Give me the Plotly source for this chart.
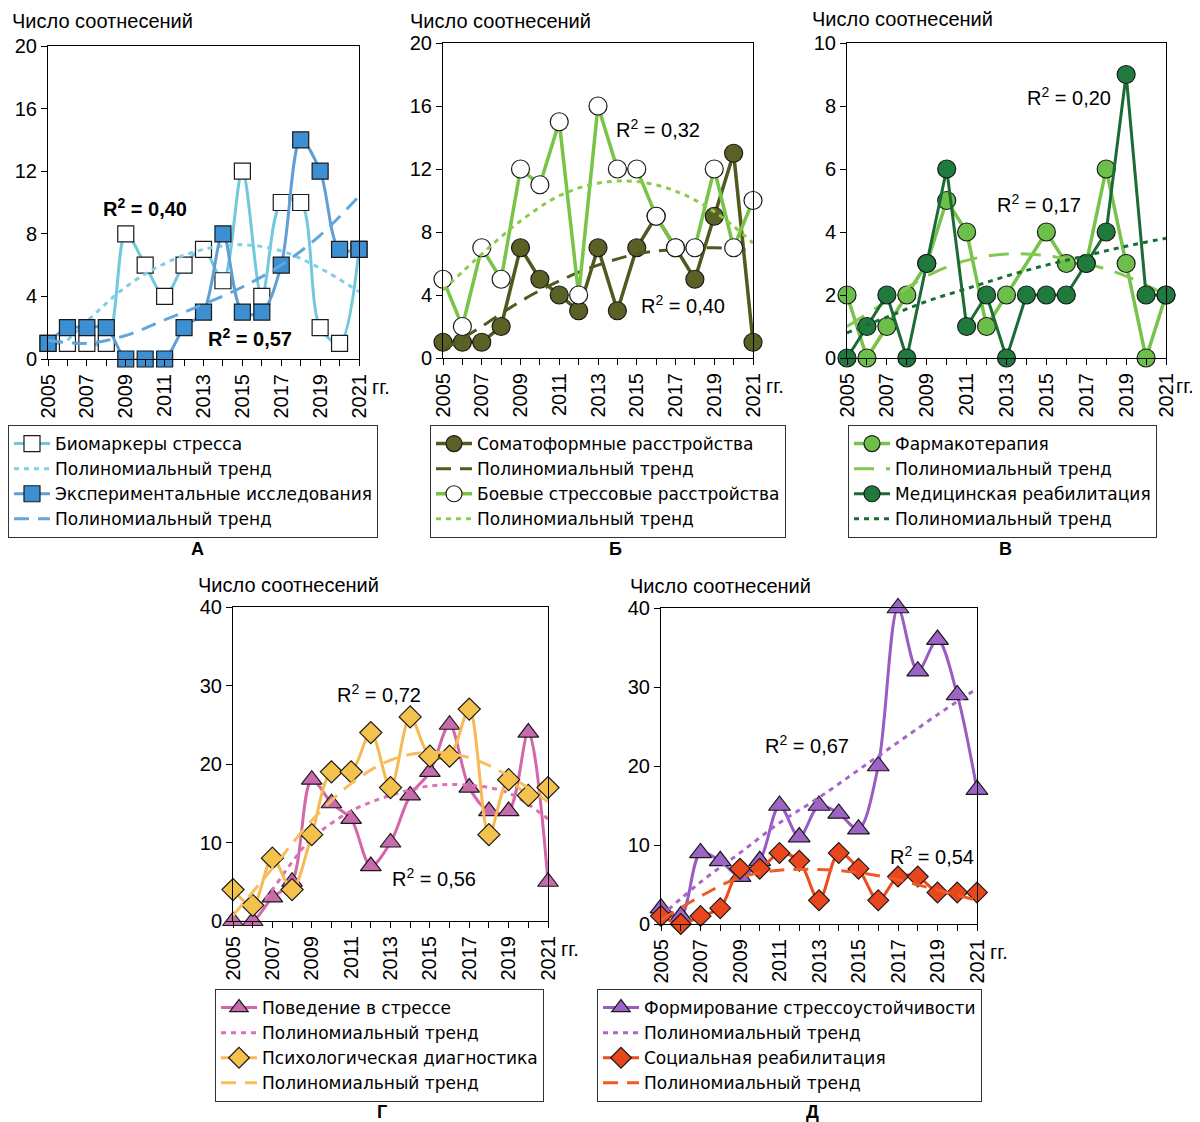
import plotly.graph_objects as go

# The page body adds an 8px margin, so the figure is sized to fill the rest of the window
OFF = 8
W, H = 1200 - OFF, 1122 - OFF
FONT = "Arial, Liberation Sans, sans-serif"
LEG_FONT = "DejaVu Sans, Arial, sans-serif"


def px(x):
    return (x - OFF) / W


def py(y):
    return 1 - (y - OFF) / H


years = list(range(2005, 2022))
year_tick_vals = [2005, 2007, 2009, 2011, 2013, 2015, 2017, 2019, 2021]
year_tick_text = ["2005", "2007", "2009", "2011", "2013", "2015", "2017", "2019", "2021"]
trend_years = [2005, 2007, 2009, 2011, 2013, 2015, 2017, 2019, 2021]

# ---- Panel А ----
a_biomarkers = [1, 1, 1, 1, 8, 6, 4, 6, 7, 5, 12, 4, 10, 10, 2, 1, 7]
a_experimental = [1, 2, 2, 2, 0, 0, 0, 2, 3, 8, 3, 3, 6, 14, 12, 7, 7]
a_bio_trend_years = [2006, 2007, 2009, 2011, 2013, 2015, 2017, 2019, 2021]
a_bio_trend = [1.2, 2.4, 4.6, 6.1, 7.0, 7.3, 6.9, 5.8, 4.3]
a_exp_trend = [1.2, 1.0, 1.5, 2.5, 3.5, 4.6, 6.0, 7.9, 10.4]

# ---- Panel Б ----
b_somatoform = [1, 1, 1, 2, 7, 5, 4, 3, 7, 3, 7, 9, 7, 5, 9, 13, 1]
b_combat = [5, 2, 7, 5, 12, 11, 15, 4, 16, 12, 12, 9, 7, 7, 12, 7, 10]
b_som_trend = [0.5, 2.0, 3.6, 4.9, 5.9, 6.6, 6.9, 7.0, 6.8]
b_combat_trend = [4.3, 6.6, 8.7, 10.3, 11.1, 11.2, 10.6, 9.3, 7.3]

# ---- Panel В ----
c_pharma = [2, 0, 1, 2, 3, 5, 4, 1, 2, None, 4, 3, 3, 6, 3, 0, 2]
c_rehab = [0, 1, 2, 0, 3, 6, 1, 2, 0, 2, 2, 2, 3, 4, 9, 2, 2]
c_pharma_trend = [1.0, 1.8, 2.6, 3.1, 3.3, 3.25, 3.0, 2.6, 2.0]
c_rehab_trend = [0.8, 1.3, 1.8, 2.2, 2.6, 2.95, 3.25, 3.55, 3.8]

# ---- Panel Г ----
d_behavior = [0, 0, 3, 5, 18, 15, 13, 7, 10, 16, 19, 25, 17, 14, 14, 24, 5]
d_diagnostics = [4, 2, 8, 4, 11, 19, 19, 24, 17, 26, 21, 21, 27, 11, 18, 16, 17]
d_behavior_trend_years = [2006, 2007, 2008, 2009, 2011, 2013, 2015, 2017, 2019, 2021]
d_behavior_trend = [0.8, 4.0, 7.5, 10.5, 14.0, 16.0, 17.2, 17.3, 16.3, 13.0]
d_diag_trend = [0.7, 6.7, 12.8, 17.5, 20.5, 21.5, 20.8, 18.5, 15.2]

# ---- Panel Д ----
e_resilience = [2, 1, 9, 8, 6, 8, 15, 11, 15, 14, 12, 20, 40, 32, 36, 29, 17]
e_social = [1, 0, 1, 2, 7, 7, 9, 8, 3, 9, 7, 3, 6, 6, 4, 4, 4]
e_res_trend = [1.0, 5.3, 9.0, 12.8, 16.0, 19.5, 23.0, 26.5, 29.8]
e_soc_trend = [0.5, 3.5, 5.9, 6.8, 6.9, 6.5, 5.6, 4.3, 3.0]

series_label = "Полиномиальный тренд"
y_title = "Число соотнесений"

fig = go.Figure()


def add_series(ax, legend, name, x, y, color, fill, symbol, size, shape, width):
    fig.add_trace(go.Scatter(
        x=x, y=y, mode="lines+markers", name=name,
        xaxis="x" + ax, yaxis="y" + ax, legend=legend,
        line=dict(color=color, width=width, shape=shape, smoothing=0.9),
        marker=dict(symbol=symbol, size=size, color=fill,
                    line=dict(color="#1a1a1a", width=1.2)),
        cliponaxis=False, connectgaps=True))


def add_trend(ax, legend, x, y, color, dash, width=3):
    fig.add_trace(go.Scatter(
        x=x, y=y, mode="lines", name=series_label,
        xaxis="x" + ax, yaxis="y" + ax, legend=legend,
        line=dict(color=color, width=width, dash=dash, shape="spline")))


DOT = "5px,5px"
DASH = "15px,9px"
LDASH = "20px,12px"

# А
add_series("", "legend", "Биомаркеры стресса", years, a_biomarkers,
           "#72c8dd", "white", "square", 16, "spline", 3)
add_trend("", "legend", a_bio_trend_years, a_bio_trend, "#7fd0e4", DOT)
add_series("", "legend", "Экспериментальные исследования", years, a_experimental,
           "#5f9fd6", "#3c8fd2", "square", 16, "spline", 3)
add_trend("", "legend", trend_years, a_exp_trend, "#62a6dc", DASH)

# Б
add_series("2", "legend2", "Соматоформные расстройства", years, b_somatoform,
           "#4f5a1f", "#5b6125", "circle", 18, "linear", 3.5)
add_trend("2", "legend2", trend_years, b_som_trend, "#4f5a1f", DASH)
add_series("2", "legend2", "Боевые стрессовые расстройства", years, b_combat,
           "#78c446", "white", "circle", 18, "linear", 3.5)
add_trend("2", "legend2", trend_years, b_combat_trend, "#8ccb4e", DOT)

# В
add_series("3", "legend3", "Фармакотерапия", years, c_pharma,
           "#76c24a", "#6cc04a", "circle", 18, "linear", 3.5)
add_trend("3", "legend3", trend_years, c_pharma_trend, "#84c84f", LDASH)
add_series("3", "legend3", "Медицинская реабилитация", years, c_rehab,
           "#1b6b34", "#1f7a3d", "circle", 18, "linear", 3)
add_trend("3", "legend3", trend_years, c_rehab_trend, "#1b6b34", DOT)

# Г
add_series("4", "legend4", "Поведение в стрессе", years, d_behavior,
           "#d466ab", "#c86aae", "triangle-up", 18, "spline", 3)
add_trend("4", "legend4", d_behavior_trend_years, d_behavior_trend, "#d873b4", DOT)
add_series("4", "legend4", "Психологическая диагностика", years, d_diagnostics,
           "#f7b955", "#f3c24c", "diamond", 17, "spline", 3)
add_trend("4", "legend4", trend_years, d_diag_trend, "#f8bd5c", DASH)

# Д
add_series("5", "legend5", "Формирование стрессоустойчивости", years, e_resilience,
           "#9a5bc2", "#9e63c6", "triangle-up", 19, "spline", 3)
add_trend("5", "legend5", trend_years, e_res_trend, "#a866c8", DOT)
add_series("5", "legend5", "Социальная реабилитация", years, e_social,
           "#ec4b1d", "#e8461c", "diamond", 16, "spline", 3)
add_trend("5", "legend5", trend_years, e_soc_trend, "#ef5a26", DASH)

# axis boxes in window pixels: (left, right, top, bottom)
panels = [
    ("", (48, 359, 46, 359), [0, 20], 4),
    ("2", (443, 753, 43, 358), [0, 20], 4),
    ("3", (847, 1166, 43, 358), [0, 10], 2),
    ("4", (233, 548, 607, 921), [0, 40], 10),
    ("5", (661, 977, 608, 924), [0, 40], 10),
]

layout = dict(
    width=W, height=H, margin=dict(l=0, r=0, t=0, b=0, pad=0, autoexpand=False),
    paper_bgcolor="white", plot_bgcolor="white",
    font=dict(family=FONT, size=20, color="black"),
    showlegend=True,
)

for ax, (l, r, t, b), yr, dt in panels:
    n = ax
    layout["xaxis" + n] = dict(
        domain=[px(l), px(r)], range=[2005, 2021], anchor="y" + n,
        tickmode="array", tickvals=year_tick_vals, ticktext=year_tick_text,
        tickangle=-90, ticks="outside", ticklen=6, tickcolor="black",
        minor=dict(dtick=1, tick0=2005, ticks="outside", ticklen=6, tickcolor="black"),
        showline=True, linecolor="black", linewidth=1, mirror=True,
        showgrid=False, zeroline=False, automargin=False,
        tickfont=dict(size=20, family=FONT))
    layout["yaxis" + n] = dict(
        domain=[py(b), py(t)], range=yr, anchor="x" + n,
        tick0=0, dtick=dt, ticks="outside", ticklen=6, tickcolor="black",
        showline=True, linecolor="black", linewidth=1, mirror=True,
        showgrid=False, zeroline=False, automargin=False,
        tickfont=dict(size=20, family=FONT))

legend_pos = {
    "legend": (8, 425),
    "legend2": (430, 425),
    "legend3": (848, 425),
    "legend4": (215, 989),
    "legend5": (597, 989),
}
for key, (lx, ly) in legend_pos.items():
    layout[key] = dict(
        x=px(lx), y=py(ly), xanchor="left", yanchor="top",
        bordercolor="#333333", borderwidth=1, bgcolor="white",
        font=dict(size=17, family=LEG_FONT), tracegroupgap=0, itemwidth=36)

annotations = []
# y titles
for (xp, yp) in [(10, 21), (408, 21), (810, 19), (196, 585), (628, 586)]:
    annotations.append(dict(text=y_title, x=px(xp), y=py(yp), xref="paper", yref="paper",
                            xanchor="left", yanchor="middle", showarrow=False,
                            font=dict(size=20, family=FONT)))
# "гг." labels
for ax, xs in [("", 11), ("2", 11), ("3", 8), ("4", 11), ("5", 11)]:
    annotations.append(dict(text="гг.", x=1, y=0, xref="x" + ax + " domain", yref="y" + ax + " domain",
                            xanchor="left", yanchor="middle", xshift=xs, yshift=-28,
                            showarrow=False, font=dict(size=20, family=FONT)))
# R² labels (data coords)
r2 = [
    ("", "0,40", 2010.0, 9.7, True),
    ("", "0,57", 2015.4, 1.4, True),
    ("2", "0,32", 2016.1, 14.6, False),
    ("2", "0,40", 2017.4, 3.4, False),
    ("3", "0,20", 2016.15, 8.3, False),
    ("3", "0,17", 2014.65, 4.9, False),
    ("4", "0,72", 2012.4, 29.0, False),
    ("4", "0,56", 2015.2, 5.6, False),
    ("5", "0,67", 2012.4, 22.7, False),
    ("5", "0,54", 2018.7, 8.7, False),
]
for ax, val, xv, yv, bold in r2:
    txt = "R<sup>2</sup> = " + val
    if bold:
        txt = "<b>" + txt + "</b>"
    annotations.append(dict(text=txt, x=xv, y=yv, xref="x" + ax, yref="y" + ax,
                            xanchor="center", yanchor="middle",
                            showarrow=False, font=dict(size=20, family=FONT)))
# panel letters
for letter, (xp, yp) in [("А", (197, 549)), ("Б", (615, 549)), ("В", (1005, 549)),
                         ("Г", (382, 1112)), ("Д", (812, 1112))]:
    annotations.append(dict(text="<b>" + letter + "</b>", x=px(xp), y=py(yp),
                            xref="paper", yref="paper", xanchor="center", yanchor="middle",
                            showarrow=False, font=dict(size=18, family=FONT)))

layout["annotations"] = annotations
fig.update_layout(**layout)
fig.write_html("out.html")
